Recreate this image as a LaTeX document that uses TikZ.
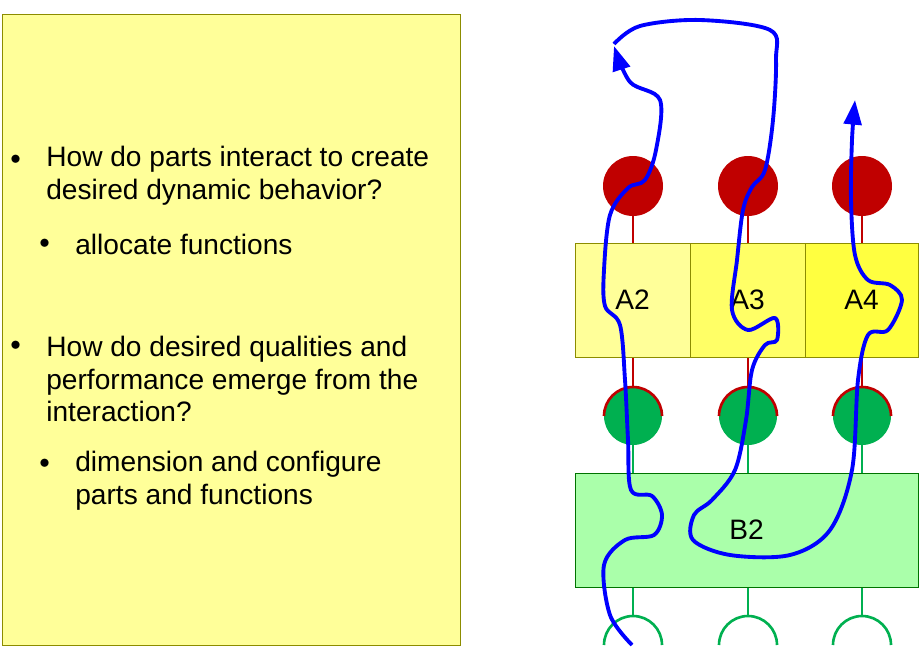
\documentclass[tikz,border=0pt]{standalone}
\usepackage{fontspec}
\setmainfont{Liberation Sans}
\usetikzlibrary{arrows.meta}
\definecolor{noteyellow}{HTML}{FFFF99}
\definecolor{ayellowa}{HTML}{FFFF99}
\definecolor{ayellowb}{HTML}{FFFF66}
\definecolor{ayellowc}{HTML}{FFFF40}
\definecolor{bgreen}{HTML}{AAFFAA}
\definecolor{portred}{HTML}{C00000}
\definecolor{portgreen}{HTML}{00B050}
\definecolor{boxline}{HTML}{8C8C00}
\tikzset{
    txt/.style={anchor=west, font=\fontsize{16}{18.7}\selectfont, align=left, inner sep=0pt},
    dot/.style={anchor=west, font=\fontsize{12}{12}\selectfont, inner sep=0pt},
    blk/.style={draw=boxline, minimum height=2.28cm, inner sep=0pt, font=\fontsize{16}{18}\selectfont},
    flow/.style={blue, line width=2.2pt, line join=round},
}
\begin{document}
\begin{tikzpicture}[x=0.02cm, y=-0.02cm]
    \useasboundingbox (0,0) rectangle (920,660);

    % Notes
    \draw[boxline, fill=noteyellow] (2,14) rectangle (460,645);
    \node[dot] (b1) at (10,160) {$\bullet$};
    \node[txt] (q1) at (46,176) {How do parts interact to create\\desired dynamic behavior?};
    \node[dot] (b2) at (39,244) {$\bullet$};
    \node[txt] (s1) at (75,244) {allocate functions};
    \node[dot] (b3) at (10,346) {$\bullet$};
    \node[txt] (q2) at (46,379) {How do desired qualities and\\performance emerge from the\\interaction?};
    \node[dot] (b4) at (39,464) {$\bullet$};
    \node[txt] (s2) at (75,481) {dimension and configure\\parts and functions};

    % Ports and stems
    \foreach \x in {633,748,862}{
        \draw[portred, line width=1.5pt] (\x,216) -- (\x,243);
        \fill[portred] (\x,186) circle (30);
        \draw[portred, line width=1.5pt] (\x,357) -- (\x,388);
        \fill[portgreen] (\x,416) circle (29);
        \draw[portred, line width=1.5pt] (\x-29,416) arc (180:360:29);
        \draw[portgreen, line width=1.5pt] (\x,445) -- (\x,473);
        \draw[portgreen, line width=1.5pt] (\x,587) -- (\x,615);
        \draw[portgreen, line width=1.5pt] (\x-29,645) arc (180:360:29);
    }

    % Blocks
    \node[blk, fill=ayellowa, minimum width=2.3cm] (A2) at (632.5,300) {A2};
    \node[blk, fill=ayellowb, minimum width=2.3cm] (A3) at (747.5,300) {A3};
    \node[blk, fill=ayellowc, minimum width=2.26cm] (A4) at (861.5,300) {A4};
    \node[blk, draw=green!45!black, fill=bgreen, minimum width=6.86cm] (B2) at (746.5,530) {B2};

    % Flow
    \draw[flow, -{Triangle[length=14pt, width=10pt]}] plot[smooth, tension=0.55] coordinates {
        (632,645) (610,615) (604,565) (625,540) (654,535) (662,515) (652,496) (631,490)
        (628,440) (625,380) (620,325) (605,306) (604,270) (610,215) (628,188) (645,180)
        (656,150) (660,100) (630,82) (614,46)};
    \draw[flow, -{Triangle[length=14pt, width=10pt]}] plot[smooth, tension=0.55] coordinates {
        (614,44) (640,26) (700,20) (770,30) (776,60) (773,120) (765,170) (752,187)
        (743,210) (737,260) (732,310) (748,330) (775,318) (777,340) (765,345)
        (752,370) (746,420) (735,470) (712,500) (694,515) (693,540) (730,555)
        (790,555) (830,530) (852,470) (858,380) (868,335) (888,330) (902,300)
        (890,285) (868,280) (855,255) (851,200) (852,140) (855,100)};
\end{tikzpicture}
\end{document}
